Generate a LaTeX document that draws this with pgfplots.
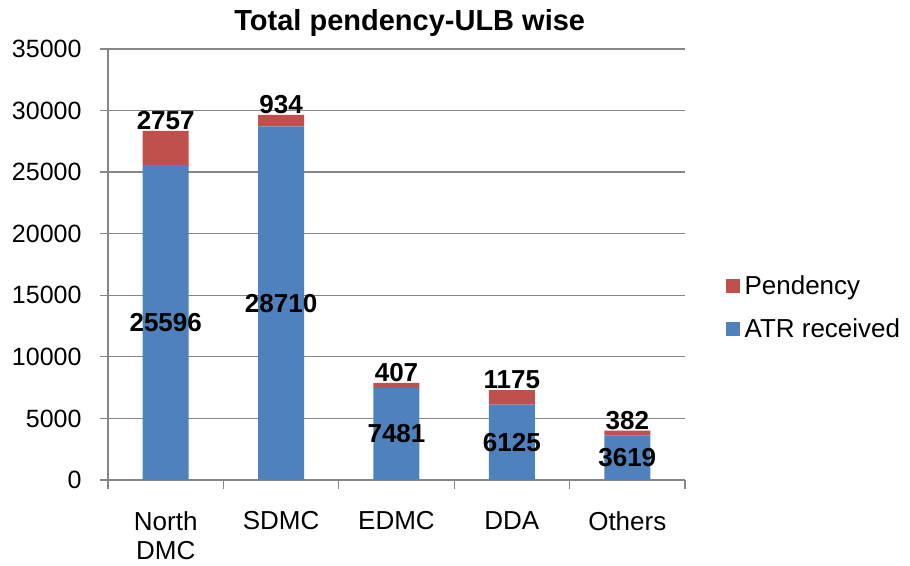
\documentclass[border=0pt]{standalone}
\usepackage{pgfplots}
\usepackage{pgfplotstable}
\pgfplotsset{compat=1.18}
\usepackage{fontspec}
\setmainfont{Liberation Sans}
\definecolor{atr}{HTML}{4F81BD}
\definecolor{pend}{HTML}{C0504D}
\definecolor{axgray}{HTML}{868686}
\pgfplotstableread{
x atr pend
0 25596 2757
1 28710 934
2 7481 407
3 6125 1175
4 3619 382
}\datatab
\begin{document}
\begin{tikzpicture}
\begin{axis}[
  scale only axis, width=577pt, height=431pt,
  ybar stacked, bar width=46pt,
  xmin=-0.5, xmax=4.5, ymin=0, ymax=35000,
  xtick={0,1,2,3,4},
  xticklabels={North\\DMC,SDMC,EDMC,DDA,Others},
  xticklabel style={align=center, anchor=north, font=\fontsize{26}{29}\selectfont, yshift=-20pt},
  major x tick style={draw=none},
  minor xtick={-0.5,0.5,1.5,2.5,3.5,4.5},
  minor tick length=9pt,
  major tick length=8pt,
  tick align=outside,
  tick style={axgray, line width=1.3pt},
  ytick={0,5000,...,35000},
  scaled y ticks=false,
  yticklabel style={font=\fontsize{25}{29}\selectfont, xshift=-15pt,
    /pgf/number format/fixed, /pgf/number format/precision=0},
  ymajorgrids,
  grid style={axgray, line width=1.3pt},
  axis x line*=bottom, axis y line*=left,
  axis line style={-, axgray, line width=1.3pt},
  /pgf/number format/assume math mode=true,
  /pgf/number format/set thousands separator={},
  clip=false,
  legend style={at={(1.07,0.40)}, anchor=west, draw=none, fill=none,
    font=\fontsize{26}{30}\selectfont, row sep=19pt, inner sep=0pt,
    legend cell align=left,
    nodes={inner xsep=5pt}},
  legend image code/.code={\fill[#1] (0pt,-7pt) rectangle (14pt,7pt);},
  reverse legend,
]
\addplot+[fill=atr, draw=none] table[x=x, y=atr] {\datatab};
\addlegendentry{ATR received}
\addplot+[fill=pend, draw=none] table[x=x, y=pend] {\datatab};
\addlegendentry{Pendency}
\node[font=\bfseries\fontsize{29}{34}\selectfont, anchor=base] at (rel axis cs:0.523,1.0418) {Total pendency-ULB wise};
\path (rel axis cs:-0.1872,-0.1995) rectangle (rel axis cs:1.390,1.1137);
\end{axis}
\begin{axis}[
  scale only axis, width=577pt, height=431pt,
  xmin=-0.5, xmax=4.5, ymin=0, ymax=35000,
  hide axis, clip=false,
  /pgf/number format/assume math mode=true,
  /pgf/number format/set thousands separator={},
]
\addplot[draw=none, mark=none, nodes near coords, point meta=explicit,
  every node near coord/.append style={anchor=center, text=black,
    font=\bfseries\fontsize{26}{30}\selectfont}]
  table[x=x, y expr=\thisrow{atr}/2, meta=atr] {\datatab};
\addplot[draw=none, mark=none, nodes near coords, point meta=explicit,
  every node near coord/.append style={anchor=south, text=black,
    font=\bfseries\fontsize{26}{30}\selectfont, inner sep=1pt}]
  table[x=x, y expr=\thisrow{atr}+\thisrow{pend}, meta=pend] {\datatab};
\end{axis}
\end{tikzpicture}
\end{document}
